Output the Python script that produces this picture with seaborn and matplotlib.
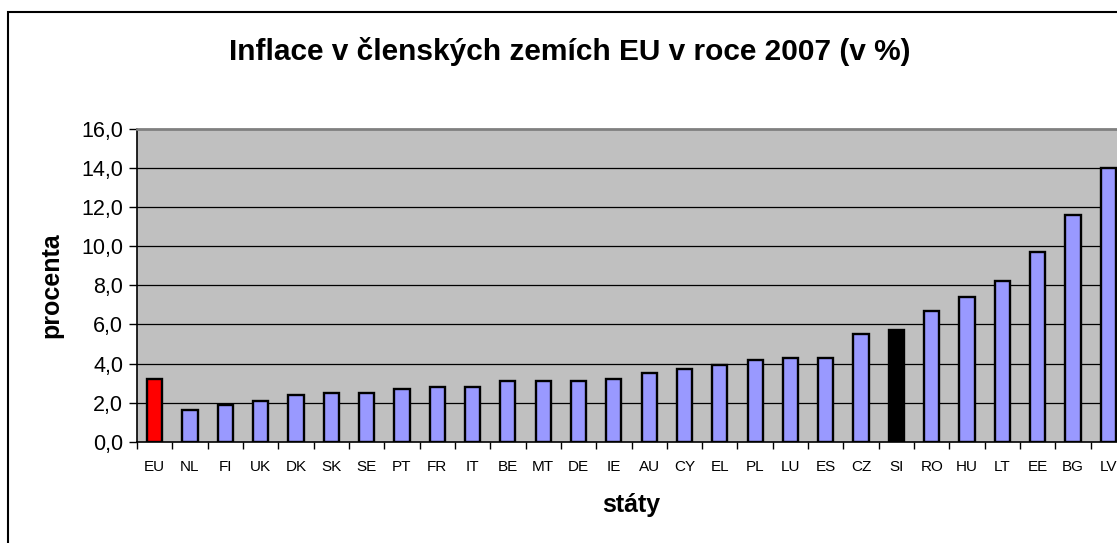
import matplotlib
matplotlib.use("Agg")
import matplotlib.pyplot as plt
import seaborn as sns
import pandas as pd
from matplotlib.ticker import FuncFormatter, FixedLocator, MultipleLocator
from matplotlib.patches import Rectangle

countries = ["EU", "NL", "FI", "UK", "DK", "SK", "SE", "PT", "FR", "IT", "BE", "MT", "DE", "IE",
             "AU", "CY", "EL", "PL", "LU", "ES", "CZ", "SI", "RO", "HU", "LT", "EE", "BG", "LV"]
inflation = [3.2, 1.6, 1.9, 2.1, 2.4, 2.5, 2.5, 2.7, 2.8, 2.8, 3.1, 3.1, 3.1, 3.2,
             3.5, 3.7, 3.9, 4.2, 4.3, 4.3, 5.5, 5.7, 6.7, 7.4, 8.2, 9.7, 11.6, 14.0]
highlight = {"EU": "#FF0000", "SI": "#000000"}
base_color = "#9999FF"

title = "Inflace v členských zemích EU v roce 2007 (v %)"
xlabel = "státy"
ylabel = "procenta"

df = pd.DataFrame({"stat": countries, "hodnota": inflation})
palette = {c: highlight.get(c, base_color) for c in countries}

sns.set_theme(style="white")
plt.rcParams["font.family"] = ["Liberation Sans", "DejaVu Sans"]
plt.rcParams["text.color"] = "black"
plt.rcParams["axes.labelcolor"] = "black"
plt.rcParams["xtick.color"] = "black"
plt.rcParams["ytick.color"] = "black"

W, H = 1117, 543
fig = plt.figure(figsize=(W / 100, H / 100), dpi=100)
fig.patch.set_facecolor("white")

# outer chart frame (clipped on right and bottom like the reference)
fig.patches.append(Rectangle((8 / W, -0.05), 1.2, (H - 12) / H + 0.05, transform=fig.transFigure,
                             fill=False, edgecolor="black", linewidth=1.5))

ax = fig.add_axes([137 / W, 101.3 / H, 989 / W, 312.7 / H])
ax.set_facecolor("#C0C0C0")

sns.barplot(data=df, x="stat", y="hodnota", hue="stat", palette=palette, legend=False,
            width=0.43, edgecolor="black", linewidth=1.7, saturation=1, ax=ax, zorder=3)

ax.set_ylim(0, 16)
ax.set_xlim(-0.5, len(countries) - 0.5)
ax.yaxis.set_major_locator(MultipleLocator(2))
ax.yaxis.set_major_formatter(FuncFormatter(lambda v, p: f"{v:.1f}".replace(".", ",")))
for y in range(2, 16, 2):
    ax.axhline(y, color="black", linewidth=0.9, zorder=1)

ax.set_xticks(range(len(countries)))
ax.set_xticklabels(countries)
ax.xaxis.set_minor_locator(FixedLocator([i - 0.5 for i in range(len(countries) + 1)]))
ax.tick_params(axis="x", which="major", bottom=False, length=0, labelsize=11, pad=13)
ax.tick_params(axis="x", which="minor", bottom=True, length=5, width=1, color="black",
               direction="out")
ax.tick_params(axis="y", which="major", left=True, length=6, width=1, color="black",
               direction="out", labelsize=15.5, pad=4)

for side in ["left", "bottom"]:
    ax.spines[side].set_color("black")
    ax.spines[side].set_linewidth(1.2)
ax.spines["top"].set_color("#808080")
ax.spines["top"].set_linewidth(2)
ax.spines["right"].set_color("#808080")
ax.spines["right"].set_linewidth(2)

ax.set_xlabel(xlabel, fontsize=18, fontweight="bold", labelpad=14)
ax.set_ylabel(ylabel, fontsize=18, fontweight="bold", labelpad=13)
fig.text(570 / W, 1 - 52 / H, title, ha="center", va="center", fontsize=21.5, fontweight="bold")

fig.savefig("out.png", dpi=100)
